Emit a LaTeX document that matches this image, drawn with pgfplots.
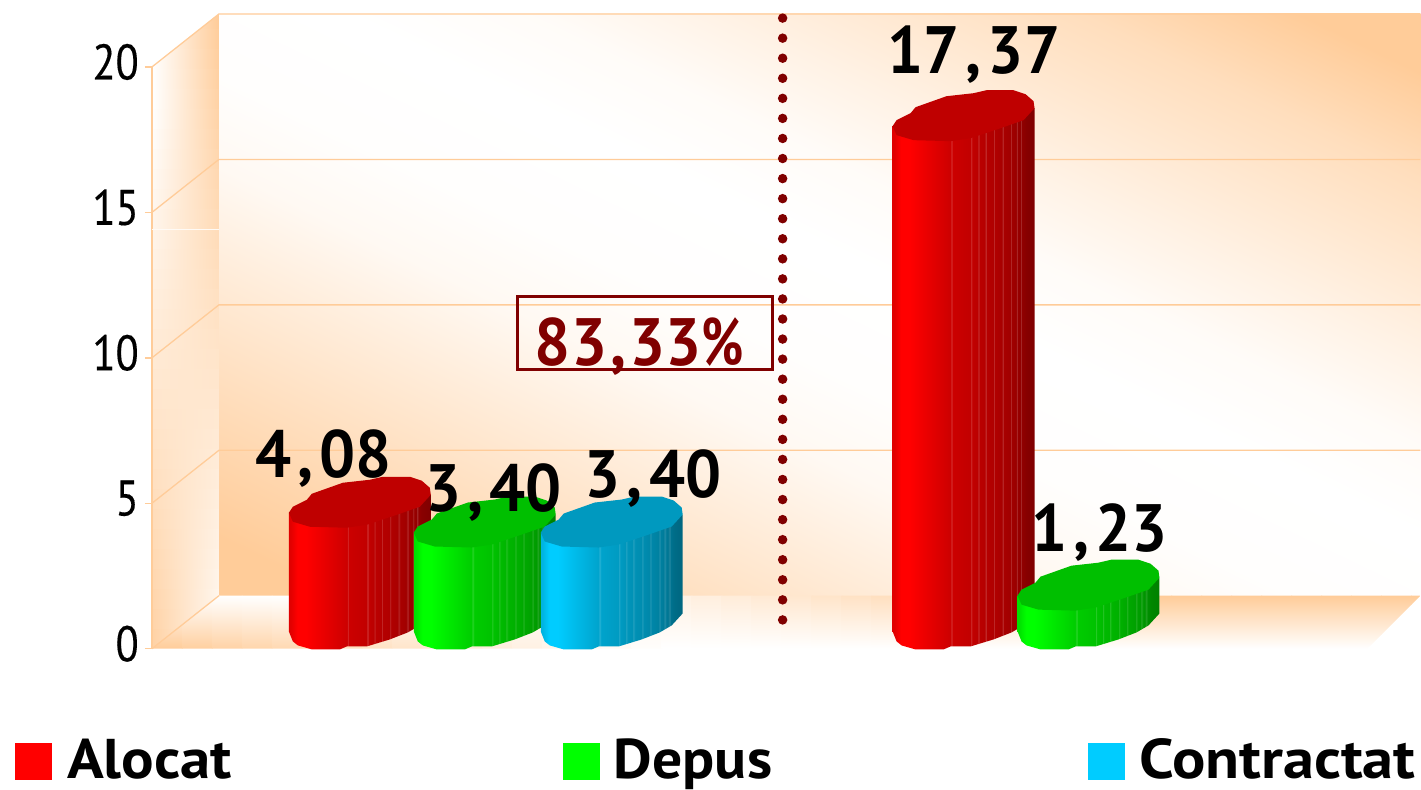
\documentclass[border=0pt]{standalone}
\usepackage{fontspec}
\usepackage{pgfplots}
\pgfplotsset{compat=1.18}
\setmainfont{PT Sans}
\newfontfamily\tickf{PT Sans}[FakeStretch=0.85,FakeBold=0.25]
\newfontfamily\legf{PT Sans}[FakeStretch=1.085]
\newfontfamily\labf{PT Sans}[FakeStretch=0.95]
\definecolor{wallor}{HTML}{FFCC99}
\definecolor{cylA}{HTML}{FF0000}
\definecolor{cylB}{HTML}{00FF00}
\definecolor{cylC}{HTML}{00CCFF}
\definecolor{dred}{HTML}{800000}
\pgfdeclarehorizontalshading{wallshade}{100bp}{
 color(0bp)=(wallor); color(19.9bp)=(wallor); color(26bp)=(wallor!75!white);
 color(36.2bp)=(wallor!33!white); color(41.2bp)=(wallor!12!white); color(46.5bp)=(wallor!2!white);
 color(53.5bp)=(white); color(58.8bp)=(wallor!7!white); color(63.8bp)=(wallor!25!white);
 color(74bp)=(wallor!65!white); color(80.1bp)=(wallor); color(100bp)=(wallor)}
\newcommand\declcyl[2]{%
 \pgfdeclarehorizontalshading{cyl#1}{100bp}{
 color(0bp)=(#2!88!black); color(25.5bp)=(#2!88!black); color(28bp)=(#2); color(31bp)=(#2);
 color(45.5bp)=(#2!80!black); color(45.6bp)=(#2!80!black!85!white); color(45.9bp)=(#2!80!black!85!white); color(46bp)=(#2!80!black);
 color(52.5bp)=(#2!76!black); color(52.6bp)=(#2!76!black!85!white); color(52.9bp)=(#2!76!black!85!white); color(53bp)=(#2!76!black);
 color(55bp)=(#2!73!black); color(55.1bp)=(#2!73!black!85!white); color(55.4bp)=(#2!73!black!85!white); color(55.5bp)=(#2!73!black);
 color(57.5bp)=(#2!71!black); color(57.6bp)=(#2!71!black!85!white); color(57.9bp)=(#2!71!black!85!white); color(58bp)=(#2!71!black);
 color(60.5bp)=(#2!69!black); color(60.6bp)=(#2!69!black!85!white); color(60.9bp)=(#2!69!black!85!white); color(61bp)=(#2!69!black);
 color(63.5bp)=(#2!66!black); color(63.6bp)=(#2!66!black!85!white); color(63.9bp)=(#2!66!black!85!white); color(64bp)=(#2!66!black);
 color(66.5bp)=(#2!63!black); color(66.6bp)=(#2!63!black!85!white); color(66.9bp)=(#2!63!black!85!white); color(67bp)=(#2!63!black);
 color(68.5bp)=(#2!60!black); color(68.6bp)=(#2!60!black!85!white); color(68.9bp)=(#2!60!black!85!white); color(69bp)=(#2!60!black);
 color(70bp)=(#2!57!black); color(70.1bp)=(#2!57!black!85!white); color(70.4bp)=(#2!57!black!85!white); color(70.5bp)=(#2!57!black);
 color(72bp)=(#2!53!black); color(75bp)=(#2!50!black); color(100bp)=(#2!50!black)}%
}
\declcyl{A}{cylA}
\declcyl{B}{cylB}
\declcyl{C}{cylC}
% #1 centre in pixels, #2 value, #3 series colour letter
\newcommand\cyl[3]{%
 \gdef\topl{}\gdef\bodl{}%
 \foreach \dx/\dy in {-71/-10,-67/-4,-53/3,-48/9,-17/20,10/23,23/26,50/26,62/22,70/15,71/8,60/-4,37/-12,7/-22,-13/-25,-50/-24,-67/-19}{%
   \pgfmathsetmacro\px{#1+\dx}\pgfmathsetmacro\py{#2+\dy/29.1}\xdef\topl{\topl(\px,\py)}}%
 \pgfmathsetmacro\px{#1-71}\pgfmathsetmacro\py{#2-10/29.1}\xdef\bodl{(\px,\py)}%
 \foreach \dx/\dy in {-71/-10,-67/-20,-62/-24,-48/-28,-20/-28,-13/-25,7/-25,30/-18,48/-11,60/-4,71/8}{%
   \pgfmathsetmacro\px{#1+\dx}\pgfmathsetmacro\py{\dy/29.1}\xdef\bodl{\bodl(\px,\py)}}%
 \pgfmathsetmacro\px{#1+71}\pgfmathsetmacro\py{#2+8/29.1}\xdef\bodl{\bodl(\px,\py)}%
 \edef\tmp{\noexpand\addplot[draw=none, shading=cyl#3, yshift=27.3pt] coordinates {\bodl} -- cycle;
   \noexpand\addplot[draw=none, fill=cyl#3!75!black, yshift=27.3pt] coordinates {\topl} -- cycle;}%
 \tmp
}
\def\P#1#2{(axis cs:#1,{(649-#2)/29.1})}
\newcommand\cm{\kern6pt,\kern6pt}
\newcommand\lab[3]{\node[anchor=base west,inner sep=0pt,font=\labf\bfseries\fontsize{67}{67}\selectfont,text=black] at \P{#1}{#2} {#3};}
\begin{document}
\begin{tikzpicture}
\begin{axis}[
  scale only axis, width=1269pt, height=790pt,
  xmin=152, xmax=1421, ymin=-4.845, ymax=22.302,
  clip=false, axis line style={draw=none},
  xtick=\empty, ytick={0,5,10,15,20}, ytick pos=left,
  tick align=outside, major tick length=7pt,
  tick style={wallor, line width=1.5pt},
  /pgf/number format/assume math mode=true,
  yticklabel style={font=\tickf\fontsize{50}{50}\selectfont, inner sep=0pt, xshift=-6pt, yshift=5pt, text=black},
]
\path \P{0}{790} rectangle \P{1421}{0};
% back wall
\path[shading=wallshade, shading angle=64.2] \P{219}{14} rectangle \P{1421}{596};
% side wall, in strips
\begin{scope}
\clip \P{152}{67} -- \P{219}{14} -- \P{219}{596} -- \P{152}{649} -- cycle;
\foreach \y in {10,30,...,650}{
  \pgfmathsetmacro\valL{max(0,min(90,(\y-100)/6))}
  \pgfmathsetmacro\valR{max(8,min(100,100-(\y-14)/7))}
  \pgfmathsetmacro\ye{\y+20.6}
  \edef\tmp{\noexpand\path[left color=wallor!\valL!white, middle color=white, right color=wallor!\valR!white] \P{152}{\y} rectangle \P{219}{\ye};}\tmp
}
\end{scope}
% floor, in strips
\begin{scope}
\clip \P{152}{649} -- \P{219}{596} -- \P{1421}{596} -- \P{1368}{649} -- cycle;
\foreach \x in {152,182,...,1422}{
  \pgfmathsetmacro\valT{max(0,min(100,(\x-500)/6))}
  \pgfmathsetmacro\valB{max(0,min(100,(650-\x)/5))}
  \pgfmathsetmacro\xe{\x+30.6}
  \edef\tmp{\noexpand\path[top color=wallor!\valT!white, bottom color=wallor!\valB!white] \P{\x}{596} rectangle \P{\xe}{649};}\tmp
}
\end{scope}
% grid
\addplot[wallor, line width=1.3pt] coordinates {(152,20)(219,21.821)(1421,21.821)};
\addplot[wallor, line width=1.3pt] coordinates {(152,15)(219,16.821)(1421,16.821)};
\addplot[wallor, line width=1.3pt] coordinates {(152,10)(219,11.821)(1421,11.821)};
\addplot[wallor, line width=1.3pt] coordinates {(152,5)(219,6.821)(1421,6.821)};
\addplot[wallor, line width=1.3pt] coordinates {(152,0)(219,1.821)};
\addplot[wallor, line width=1.3pt] coordinates {(152,0)(152,20)};
\addplot[white!90!wallor, line width=1pt] coordinates {(152,14.4)(219,14.4)};
% bars
\cyl{360}{4.08}{A}
\cyl{485}{3.40}{B}
\cyl{612}{3.40}{C}
\cyl{964}{17.37}{A}
\cyl{1089}{1.23}{B}
% divider
\addplot[dred, line width=9.5pt, line cap=round, dash pattern=on 0pt off 20.07pt] coordinates {(783,21.68)(783,0.95)};
% labels
\lab{255}{478}{4\cm08}
\lab{425}{512}{3\cm40}
\lab{585}{498}{3\cm40}
\lab{888}{74}{17\cm37}
\lab{1032}{552}{1\cm23}
\draw[dred, line width=3pt] \P{518}{297} rectangle \P{773}{370};
\node[anchor=base west,inner sep=0pt,font=\labf\bfseries\fontsize{67}{67}\selectfont,text=dred] at \P{535}{366} {83\kern3pt,\kern3pt33{\addfontfeature{FakeStretch=0.75}\%}};
% legend
\fill[cylA] \P{15}{743} rectangle \P{52}{780};
\fill[cylB] \P{563}{743} rectangle \P{600}{780};
\fill[cylC] \P{1088}{743} rectangle \P{1126}{780};
\node[anchor=base west,inner sep=0pt,font=\legf\bfseries\fontsize{56}{56}\selectfont] at \P{67}{779} {Alocat};
\node[anchor=base west,inner sep=0pt,font=\legf\bfseries\fontsize{56}{56}\selectfont] at \P{614}{779} {\addfontfeature{FakeStretch=1.065}Depus};
\node[anchor=base west,inner sep=0pt,font=\legf\bfseries\fontsize{56}{56}\selectfont] at \P{1140}{779} {\addfontfeature{FakeStretch=1.113}Contractat};
\end{axis}
\end{tikzpicture}
\end{document}
